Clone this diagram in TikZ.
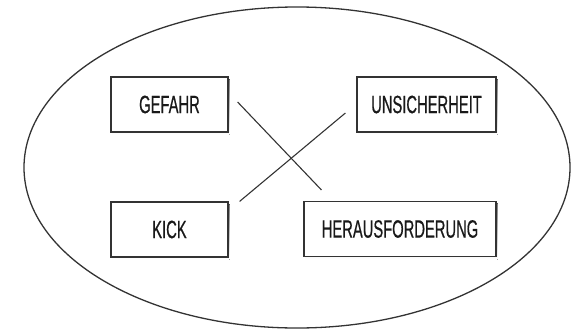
\documentclass[tikz,border=0pt]{standalone}
\usepackage{fontspec}
\usetikzlibrary{shapes.geometric}
\newfontfamily\narrowsans[FakeStretch=0.59,FakeBold=0.5]{Liberation Sans}
\definecolor{ink}{HTML}{333333}
\definecolor{shade}{HTML}{8A8A8A}
\begin{document}
\begin{tikzpicture}[x=1pt,y=-1pt,
  term/.style={draw=ink, line width=1.2pt, fill=white, rectangle,
    minimum height=55pt, inner sep=0pt,
    font=\narrowsans\fontsize{25}{27}\selectfont, text=black!90},
  link/.style={draw=ink, line width=1.1pt}]
  \useasboundingbox (0,0) rectangle (580,332);
  % outer ellipse
  \node[draw=ink, line width=1.3pt, ellipse, inner sep=0pt, minimum width=546pt, minimum height=321pt] (frame) at (297,167.5) {};
  % shadows under the boxes
  \fill[shade] (112,79) rectangle (229.5,134.5);
  \fill[shade] (358,79) rectangle (497.5,134.5);
  \fill[shade] (112,204) rectangle (229.5,259.5);
  \fill[shade] (305,203) rectangle (497.5,259.5);
  % terms
  \node[term, minimum width=117pt] (gefahr) at (169.5,104.5) {GEFAHR};
  \node[term, minimum width=139pt] (unsicher) at (426.5,104.5) {UNSICHERHEIT};
  \node[term, minimum width=117pt] (kick) at (169.5,229.5) {KICK};
  \node[term, minimum width=192pt] (heraus) at (400,229) {HERAUSFORDERUNG};
  % crossing connectors
  \draw[link] ([xshift=9pt,yshift=2.5pt]gefahr.east) -- ([xshift=18pt,yshift=11pt]heraus.north west);
  \draw[link] ([xshift=-11pt,yshift=-8.5pt]unsicher.west) -- ([xshift=11pt,yshift=0pt]kick.north east);
\end{tikzpicture}
\end{document}
